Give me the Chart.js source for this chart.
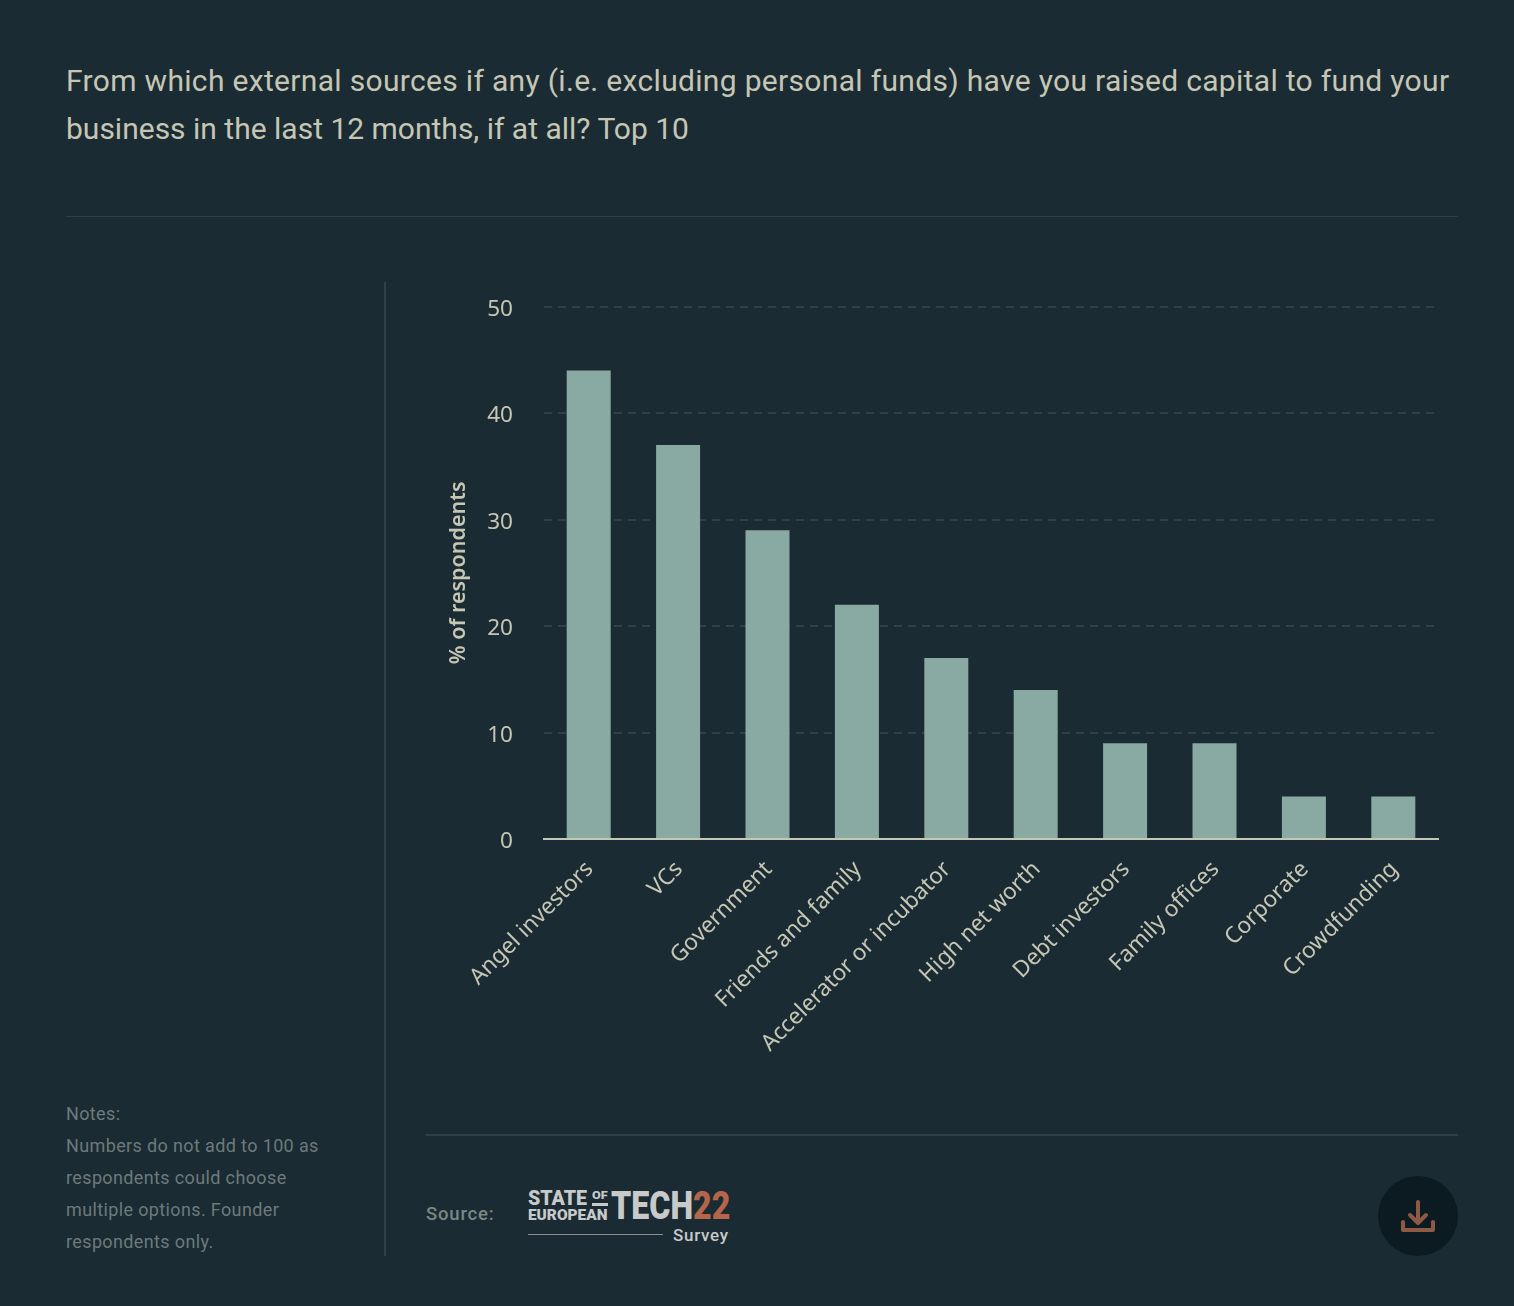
<!DOCTYPE html>
<html><head><meta charset="utf-8">
<script src="https://cdn.jsdelivr.net/npm/chart.js@4"></script>
<style>
html,body{margin:0;padding:0;background:#1a2b33;width:1514px;height:1306px;overflow:hidden}
.a{position:absolute;white-space:nowrap}
#title{left:66px;top:57px;font:400 30px/48px Roboto,sans-serif;color:#c6c6b4;letter-spacing:.32px}
.rule{position:absolute;background:#2e4148}
#notes{left:66px;top:1098px;font:400 18px/32px Roboto,sans-serif;color:#6d7a7a;letter-spacing:.37px}
#source{left:426px;top:1202px;font:500 18.5px/24px Roboto,sans-serif;color:#7b8783;letter-spacing:.8px}
.logo{font-family:Roboto,sans-serif;font-weight:900;color:#c8c9c9;transform-origin:0 0}
#btn{left:1378px;top:1176px;width:80px;height:80px;border-radius:50%;background:#0c1b21}
canvas{position:absolute;left:440px;top:262px}
</style></head><body>
<div class="a" id="title">From which external sources if any (i.e. excluding personal funds) have you raised capital to fund your<br><span style="letter-spacing:0">business in the last 12 months, if at all? Top 10</span></div>
<div class="rule" style="left:66px;top:216px;width:1392px;height:1px"></div>
<div class="rule" style="left:384px;top:282px;width:2px;height:974px"></div>
<div class="rule" style="left:426px;top:1134px;width:1032px;height:2px"></div>
<div class="a" id="notes">Notes:<br>Numbers do not add to 100 as<br>respondents could choose<br>multiple options. Founder<br>respondents only.</div>
<div class="a" id="source">Source:</div>
<div class="a logo" style="left:528px;top:1190px;font-size:20px;line-height:17px;transform:scaleX(.98)">STATE</div>
<div class="a logo" style="left:592px;top:1190px;font-size:11px;line-height:11px;transform:scaleX(1.15)">OF</div>
<div class="rule" style="left:592px;top:1203px;width:16px;height:3px;background:#c8c9c9"></div>
<div class="a logo" style="left:528px;top:1208px;font-size:14px;line-height:14px;transform:scaleX(1.1)">EUROPEAN</div>
<div class="a logo" style="left:611px;top:1185px;font-size:39px;line-height:42px;transform:scaleX(.825)">TECH<span style="color:#b5654a">22</span></div>
<div class="rule" style="left:528px;top:1234px;width:135px;height:1px;background:#8a8f90"></div>
<div class="a" style="left:673px;top:1225px;font:500 17px/20px Roboto,sans-serif;color:#c8c9c9;letter-spacing:.7px">Survey</div>
<div class="a" id="btn"><svg width="80" height="80" viewBox="0 0 80 80" fill="none" stroke="#8f5a45" stroke-width="4" stroke-linecap="round" stroke-linejoin="round"><path d="M40 26V47M32 39l8 8 8-8M25 46v8h30v-8"/></svg></div>
<canvas id="c" width="1018" height="823" style="width:1018px;height:823px"></canvas>
<script>
const categories=["Angel investors","VCs","Government","Friends and family","Accelerator or incubator","High net worth","Debt investors","Family offices","Corporate","Crowdfunding"];
const respondents=[44,37,29,22,17,14,9,9,4,4];
const yMax=50, yStep=10;
const tickFont={family:'"Noto Sans"',size:22.6};
const textColor='#c6c6b4';
new Chart(document.getElementById('c'),{
 type:'bar',
 data:{labels:categories,datasets:[{data:respondents,backgroundColor:'#89aaa2',barThickness:44,borderWidth:0,inflateAmount:0}]},
 options:{
  responsive:false,animation:false,
  layout:{padding:{top:20.5,right:20,bottom:0,left:0}},
  plugins:{legend:{display:false},tooltip:{enabled:false}},
  scales:{
   x:{
    afterFit(s){s.height=246},
    grid:{display:false,drawTicks:false},
    border:{color:'#c6c6b4',width:2},
    ticks:{color:textColor,font:tickFont,minRotation:45,maxRotation:45,autoSkip:false,padding:17,labelOffset:1}
   },
   y:{
    min:0,max:yMax,
    afterFit(s){s.width=104},
    title:{display:true,text:'% of respondents',color:textColor,font:{family:'"Noto Sans"',size:21.5,weight:'600'},padding:{top:6,bottom:0}},
    grid:{color:'#2e4148',lineWidth:2,drawTicks:false,tickLength:0},
    border:{display:false,dash:[8,6]},
    ticks:{stepSize:yStep,color:textColor,font:tickFont,padding:31,labelOffset:3}
   }
  }
 }
});
</script>
</body></html>
